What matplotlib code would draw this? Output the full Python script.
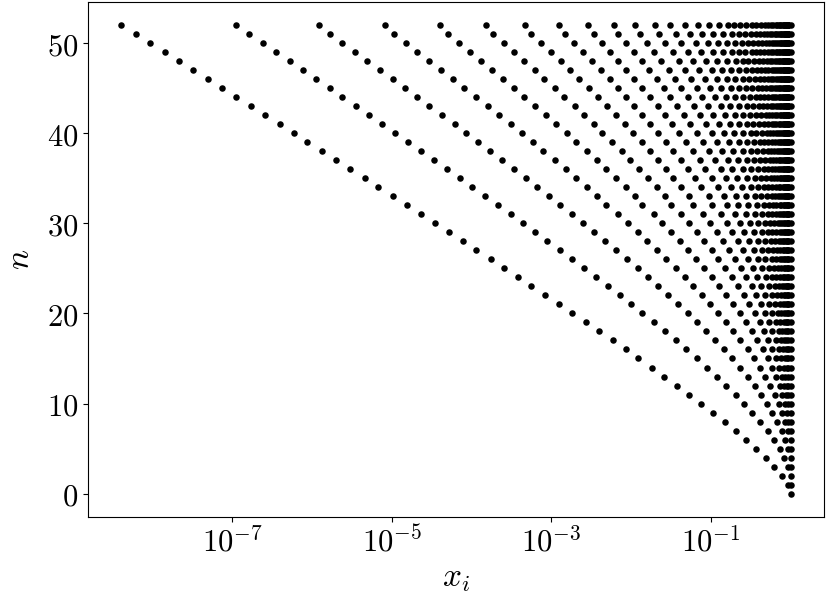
import numpy as np
import matplotlib
matplotlib.use("Agg")
import matplotlib.pyplot as plt
from matplotlib.ticker import FixedLocator, FuncFormatter, NullLocator

plt.rcParams["mathtext.fontset"] = "cm"
plt.rcParams["font.family"] = "serif"

# points of each row n = 0..52, given as -100*log10(x_i).
# only the points left of x = 1 are listed; every row also has a point at x = 1
depth_by_row = [
    [],
    [3],
    [11],
    [21, 4],
    [31, 8],
    [44, 14, 4],
    [56, 21, 7],
    [69, 29, 11, 4],
    [83, 38, 17, 7, 3],
    [97, 48, 23, 11, 5],
    [112, 58, 30, 15, 7, 4],
    [127, 69, 37, 20, 11, 6, 3],
    [143, 81, 45, 26, 14, 8, 5, 3],
    [159, 93, 54, 32, 19, 11, 7, 4],
    [174, 105, 64, 39, 24, 15, 9, 5, 3],
    [191, 118, 74, 46, 29, 18, 12, 7, 5, 3],
    [207, 131, 84, 54, 35, 23, 15, 10, 6, 4, 3],
    [223, 144, 95, 63, 42, 28, 19, 12, 8, 6, 4],
    [240, 158, 106, 72, 49, 33, 23, 15, 11, 7, 5, 3],
    [257, 172, 117, 81, 56, 39, 27, 19, 13, 9, 6, 5, 3],
    [274, 186, 129, 91, 64, 45, 32, 23, 16, 12, 8, 6, 4, 3],
    [290, 200, 141, 101, 72, 52, 37, 27, 20, 14, 10, 7, 5, 4, 3],
    [308, 214, 154, 111, 81, 59, 43, 32, 23, 17, 12, 9, 7, 5, 4, 3],
    [325, 229, 166, 122, 90, 66, 49, 37, 27, 20, 15, 11, 8, 6, 5, 3, 3],
    [342, 244, 179, 133, 99, 74, 56, 42, 31, 24, 18, 13, 10, 8, 6, 4, 3],
    [359, 259, 192, 144, 109, 82, 62, 47, 36, 27, 21, 16, 12, 9, 7, 5, 4, 3],
    [376, 274, 205, 156, 119, 91, 70, 53, 41, 32, 24, 19, 14, 11, 9, 7, 5, 4, 3],
    [394, 289, 219, 168, 129, 99, 77, 60, 46, 36, 28, 22, 17, 13, 10, 8, 6, 5, 4, 3],
    [411, 305, 233, 180, 139, 109, 85, 66, 52, 41, 32, 25, 20, 15, 12, 10, 8, 6, 5, 4, 3],
    [429, 320, 246, 192, 150, 118, 93, 73, 58, 46, 36, 29, 23, 18, 14, 11, 9, 7, 6, 4, 4, 3],
    [446, 336, 260, 204, 161, 127, 101, 80, 64, 51, 41, 32, 26, 21, 16, 13, 11, 8, 7, 5,
     4, 3, 3],
    [464, 351, 274, 217, 172, 137, 110, 88, 70, 56, 45, 36, 29, 24, 19, 15, 12, 10, 8, 6,
     5, 4, 3, 3],
    [481, 367, 289, 231, 186, 150, 122, 99, 80, 66, 53, 42, 34, 27, 22, 18, 14, 12, 9, 8,
     6, 5, 4, 3, 3],
    [499, 383, 303, 243, 195, 158, 128, 103, 84, 68, 56, 45, 37, 30, 24, 20, 16, 13, 11, 9,
     7, 6, 5, 4, 3, 3],
    [517, 399, 318, 256, 207, 168, 137, 112, 91, 75, 61, 50, 41, 34, 28, 23, 19, 15, 13, 10,
     8, 7, 6, 5, 4, 3, 3],
    [534, 415, 332, 269, 219, 179, 147, 120, 99, 81, 67, 55, 45, 37, 31, 25, 21, 17, 14, 12,
     10, 8, 7, 6, 5, 4, 3, 3],
    [552, 431, 347, 282, 231, 190, 156, 129, 107, 88, 73, 60, 50, 41, 34, 29, 24, 20, 16, 14,
     11, 9, 8, 6, 5, 4, 4, 3, 3],
    [570, 447, 362, 296, 243, 201, 166, 138, 114, 95, 79, 66, 55, 46, 38, 32, 26, 22, 18, 15,
     13, 11, 9, 7, 6, 5, 4, 4, 3, 3],
    [588, 463, 377, 310, 256, 212, 177, 147, 123, 102, 86, 72, 60, 50, 42, 35, 29, 25, 21, 17,
     15, 12, 10, 9, 7, 6, 5, 4, 4, 3, 3],
    [606, 480, 392, 323, 269, 224, 187, 156, 131, 110, 92, 78, 65, 55, 46, 39, 33, 28, 23, 20,
     16, 14, 12, 10, 8, 7, 6, 5, 4, 4, 3, 3],
    [623, 496, 407, 337, 281, 236, 198, 166, 140, 118, 99, 84, 71, 60, 50, 43, 36, 30, 26, 22,
     18, 16, 13, 11, 9, 8, 7, 6, 5, 4, 4, 3, 3],
    [640, 512, 421, 351, 294, 247, 208, 176, 149, 126, 106, 90, 76, 65, 55, 47, 40, 34, 29, 24,
     21, 18, 15, 13, 11, 9, 8, 7, 6, 5, 4, 3, 3, 3],
    [659, 529, 437, 366, 307, 259, 219, 186, 158, 134, 114, 97, 82, 70, 60, 51, 43, 37, 31, 27,
     23, 20, 17, 14, 12, 10, 9, 8, 6, 6, 5, 4, 3, 3, 3],
    [677, 545, 453, 380, 321, 271, 230, 196, 167, 142, 121, 104, 88, 76, 65, 55, 47, 40, 35, 30,
     25, 22, 19, 16, 14, 12, 10, 9, 7, 6, 5, 5, 4, 3, 3, 3],
    [695, 562, 468, 394, 334, 284, 242, 206, 176, 151, 129, 111, 95, 81, 70, 60, 51, 44, 38, 33,
     28, 24, 21, 18, 15, 13, 11, 10, 8, 7, 6, 5, 5, 4, 3, 3, 3],
    [713, 578, 484, 409, 347, 296, 253, 217, 186, 159, 137, 118, 101, 87, 75, 65, 56, 48, 41, 36,
     31, 26, 23, 20, 17, 15, 13, 11, 9, 8, 7, 6, 5, 5, 4, 3, 3, 3],
    [731, 595, 499, 423, 361, 309, 265, 227, 196, 168, 145, 125, 108, 93, 80, 70, 60, 52, 45, 39,
     34, 29, 25, 22, 19, 16, 14, 12, 11, 9, 8, 7, 6, 5, 4, 4, 3, 3, 3],
    [749, 612, 515, 438, 375, 321, 277, 238, 206, 178, 153, 133, 115, 99, 86, 75, 65, 56, 49, 42,
     37, 32, 28, 24, 21, 18, 16, 14, 12, 10, 9, 8, 7, 6, 5, 4, 4, 3, 3, 3],
    [767, 628, 531, 453, 388, 334, 288, 249, 216, 187, 162, 140, 122, 106, 92, 80, 69, 60, 53, 46,
     40, 35, 30, 26, 23, 20, 17, 15, 13, 11, 10, 9, 8, 7, 6, 5, 4, 4, 3, 3, 3],
    [785, 645, 546, 468, 402, 347, 300, 260, 226, 196, 171, 148, 129, 113, 98, 85, 74, 65, 57, 49,
     43, 38, 33, 29, 25, 22, 19, 17, 15, 13, 11, 10, 9, 7, 6, 6, 5, 4, 4, 3, 3, 3],
    [803, 662, 562, 482, 416, 360, 313, 272, 236, 206, 180, 157, 137, 119, 104, 91, 80, 70, 61, 53,
     47, 41, 36, 31, 27, 24, 21, 18, 16, 14, 12, 11, 9, 8, 7, 6, 6, 5, 4, 4, 3, 3, 3],
    [821, 679, 578, 497, 430, 373, 325, 283, 247, 216, 189, 165, 144, 126, 111, 97, 85, 74, 65, 57,
     50, 44, 39, 34, 30, 26, 23, 20, 18, 16, 14, 12, 11, 9, 8, 7, 6, 6, 5, 4, 4, 3, 3, 3],
    [839, 696, 591, 508, 440, 382, 333, 291, 254, 222, 195, 170, 151, 132, 116, 102, 90, 79, 71, 63,
     56, 49, 43, 37, 32, 29, 25, 22, 19, 17, 15, 13, 12, 10, 9, 8, 7, 6, 5, 5, 4, 4, 3, 3, 3],
]

x_ticks = [1e-7, 1e-5, 1e-3, 1e-1]
y_ticks = [0, 10, 20, 30, 40, 50]

xs, ns = [], []
for n, depths in enumerate(depth_by_row):
    for d in depths + [0]:
        xs.append(10 ** (-d / 100))
        ns.append(n)

fig = plt.figure(figsize=(8.3, 6.04), dpi=100)
ax = fig.add_axes([0.106, 0.144, 0.887, 0.853])
ax.scatter(xs, ns, s=22, c="k", linewidths=0)

ax.set_xscale("log")
ax.xaxis.set_major_locator(FixedLocator(x_ticks))
ax.xaxis.set_minor_locator(NullLocator())
ax.xaxis.set_major_formatter(FuncFormatter(lambda v, p: "$10^{%d}$" % round(np.log10(v))))
ax.yaxis.set_major_locator(FixedLocator(y_ticks))
ax.yaxis.set_major_formatter(FuncFormatter(lambda v, p: "$%d$" % v))
ax.tick_params(labelsize=22)
ax.set_xlabel("$x_i$", fontsize=24, labelpad=2)
ax.set_ylabel("$n$", fontsize=24, labelpad=8)

fig.savefig("out.png", dpi=100)
